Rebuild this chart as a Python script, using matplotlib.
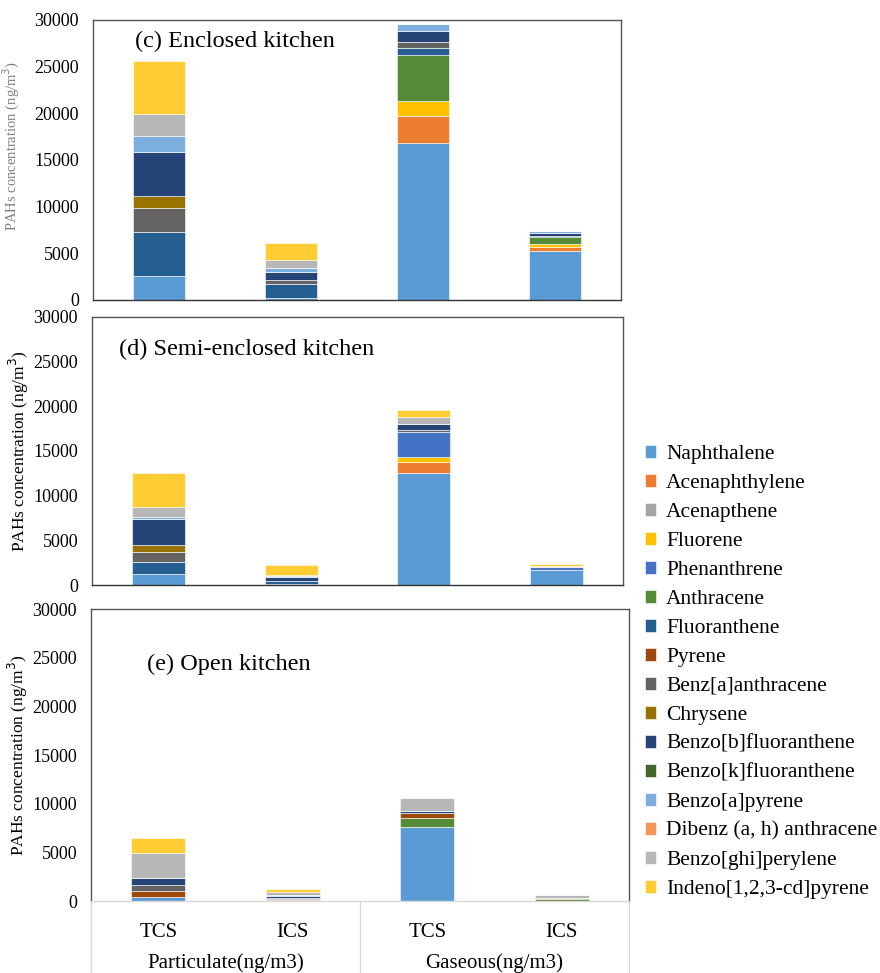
import numpy as np
import matplotlib
matplotlib.use('Agg')
import matplotlib.pyplot as plt
from matplotlib.transforms import blended_transform_factory

plt.rcParams['font.family'] = ['Liberation Serif', 'DejaVu Serif']

# Compuestos (orden de apilado, de abajo hacia arriba)
compounds = ['Naphthalene', 'Acenaphthylene', 'Acenapthene', 'Fluorene',
             'Phenanthrene', 'Anthracene', 'Fluoranthene', 'Pyrene',
             'Benz[a]anthracene', 'Chrysene', 'Benzo[b]fluoranthene',
             'Benzo[k]fluoranthene', 'Benzo[a]pyrene',
             'Dibenz (a, h) anthracene', 'Benzo[ghi]perylene',
             'Indeno[1,2,3-cd]pyrene']
colors = ['#5B9BD5', '#ED7D31', '#A5A5A5', '#FFC000', '#4472C4', '#558A37',
          '#255E91', '#9E480E', '#636363', '#997300', '#264478', '#43682B',
          '#7CAFDD', '#F1975A', '#B7B7B7', '#FFCD33']

categories = ['TCS', 'ICS', 'TCS', 'ICS']
groups = ['Particulate(ng/m3)', 'Gaseous(ng/m3)']

# columnas: particulado TCS, particulado ICS, gaseoso TCS, gaseoso ICS
enclosed = [
    [2600, 200, 16800, 5290],
    [0, 0, 2930, 390],
    [0, 0, 0, 0],
    [0, 0, 1610, 320],
    [0, 0, 0, 0],
    [0, 0, 4930, 790],
    [4710, 1500, 680, 60],
    [0, 0, 0, 0],
    [2570, 400, 710, 0],
    [1250, 0, 0, 0],
    [4750, 860, 1110, 290],
    [0, 0, 0, 0],
    [1710, 460, 820, 290],
    [0, 0, 0, 0],
    [2290, 860, 0, 0],
    [5710, 1790, 0, 0],
]
semi_enclosed = [
    [1230, 150, 12540, 1640],
    [0, 0, 1230, 0],
    [0, 0, 0, 0],
    [0, 0, 520, 0],
    [0, 0, 2800, 330],
    [0, 0, 0, 0],
    [1380, 250, 0, 0],
    [0, 0, 0, 0],
    [1080, 100, 260, 0],
    [820, 0, 0, 0],
    [2840, 380, 710, 80],
    [0, 0, 0, 0],
    [300, 120, 0, 0],
    [0, 0, 0, 0],
    [1120, 150, 780, 120],
    [3770, 1100, 750, 150],
]
open_kitchen = [
    [380, 80, 7570, 0],
    [0, 0, 0, 0],
    [0, 0, 0, 0],
    [0, 0, 0, 0],
    [0, 0, 0, 0],
    [0, 0, 920, 200],
    [0, 0, 0, 0],
    [620, 120, 580, 120],
    [620, 150, 0, 0],
    [0, 0, 0, 0],
    [750, 150, 170, 0],
    [0, 0, 0, 0],
    [0, 80, 0, 0],
    [0, 0, 0, 0],
    [2530, 300, 1340, 280],
    [1610, 350, 0, 0],
]

titles = ['(c) Enclosed kitchen', '(d) Semi-enclosed kitchen', '(e) Open kitchen']
panel_data = [enclosed, semi_enclosed, open_kitchen]

W, H = 880, 973
fig = plt.figure(figsize=(W / 100, H / 100), dpi=100)

# cajas de cada panel en pixeles: izquierda, derecha, arriba, abajo
boxes = [(93, 621, 20, 300), (92, 623, 317, 585), (91, 629, 609, 901)]
title_pos = [(0.08, 0.925), (0.05, 0.88), (0.105, 0.81)]

x = np.arange(len(categories))
axes = []
for k, (l, r, t, b) in enumerate(boxes):
    ax = fig.add_axes([l / W, 1 - b / H, (r - l) / W, (b - t) / H])
    vals = np.array(panel_data[k], dtype=float)
    bottom = np.zeros(len(categories))
    handles = []
    for i, name in enumerate(compounds):
        h = ax.bar(x, vals[i], 0.4, bottom=bottom, color=colors[i],
                   edgecolor='white', linewidth=0.4, label=name)
        handles.append(h)
        bottom += vals[i]
    ax.set_xlim(-0.5, 3.5)
    ax.set_ylim(0, 30000)
    ax.set_yticks(np.arange(0, 30001, 5000))
    ax.tick_params(length=0, labelsize=13, pad=10)
    for s in ax.spines.values():
        s.set_color('#555555')
        s.set_linewidth(1.0)
    ax.spines['bottom'].set_color('#333333')
    ax.text(title_pos[k][0], title_pos[k][1], titles[k], transform=ax.transAxes,
            fontsize=17.5, va='center', ha='left')
    axes.append(ax)

# etiqueta del eje y (la del primer panel mas chica y gris)
axes[0].set_ylabel('PAHs concentration (ng/m$^3$)', fontsize=10.5,
                   color='#7f7f7f', labelpad=2)
axes[0].yaxis.set_label_coords(-0.135, 0.55)
axes[1].set_ylabel('PAHs concentration (ng/m$^3$)', fontsize=12.5, labelpad=2)
axes[2].set_ylabel('PAHs concentration (ng/m$^3$)', fontsize=12.5, labelpad=2)

for ax in axes[:2]:
    ax.set_xticks([])

# eje de categorias agrupado en el panel inferior
ax = axes[2]
ax.spines['bottom'].set_color('#D9D9D9')
ax.set_xticks(x)
ax.set_xticklabels(categories, fontsize=15)
ax.tick_params(axis='x', pad=16)
tr = blended_transform_factory(ax.transData, ax.transAxes)
depth = (H - 901) / (901 - 609)
for xs in [-0.5, 1.5, 3.5]:
    ax.plot([xs, xs], [0, -depth], transform=tr, color='#D9D9D9',
            lw=1.0, clip_on=False)
for g, name in enumerate(groups):
    ax.text(0.5 + 2 * g, -(963 - 901) / (901 - 609), name, transform=tr,
            ha='center', va='center', fontsize=15)

fig.legend(handles=handles, labels=compounds, loc='upper left',
           bbox_to_anchor=(636 / W, 1 - 436 / H), frameon=False,
           fontsize=15.5, handlelength=0.55, handleheight=0.55,
           handletextpad=0.45, labelspacing=0.46, borderaxespad=0)

fig.savefig('out.png', dpi=100)
